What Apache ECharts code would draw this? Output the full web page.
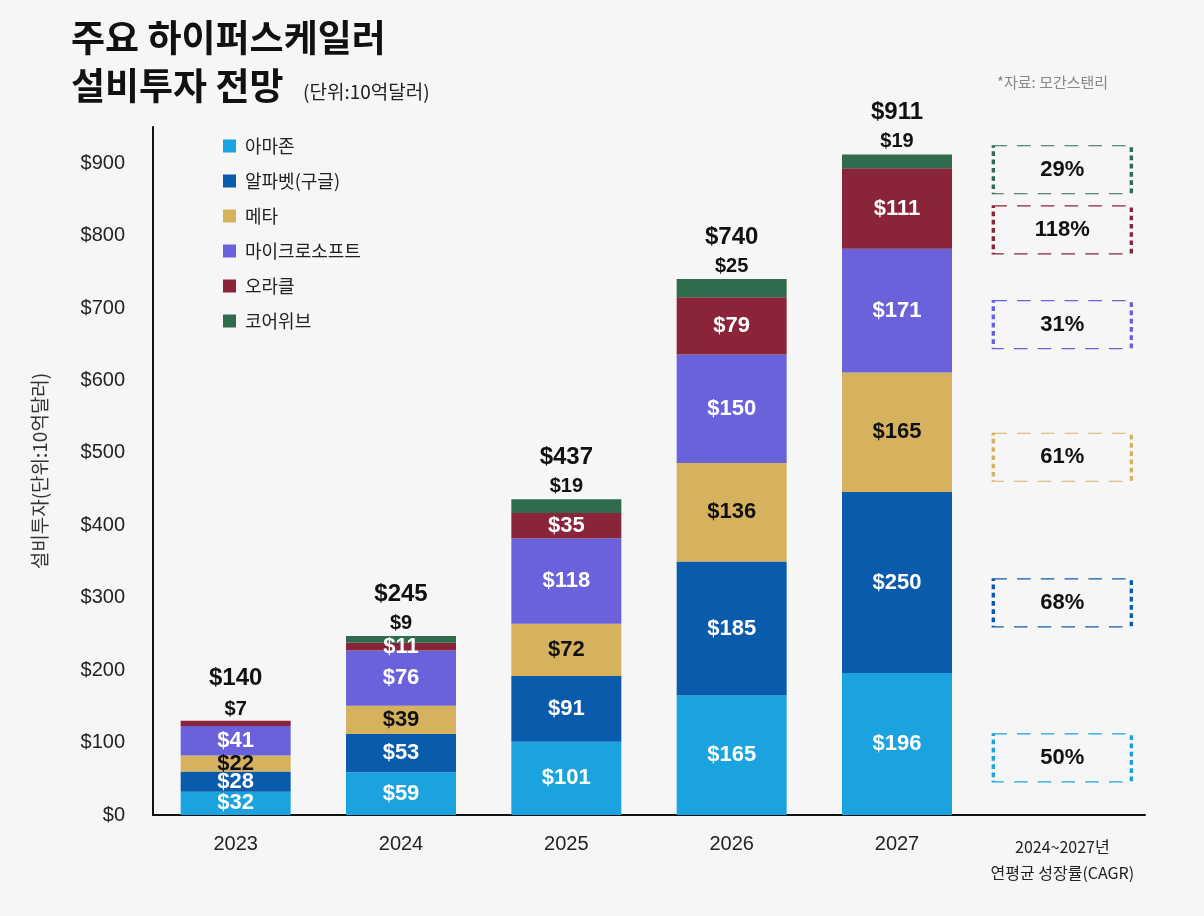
<!DOCTYPE html>
<html><head><meta charset="utf-8">
<script src="https://cdn.jsdelivr.net/npm/echarts@6/dist/echarts.min.js"></script>
<style>html,body{margin:0;padding:0;background:#f6f6f6;}#c{width:1204px;height:916px;}</style>
</head><body><div id="c"></div>
<script>
const categories = ['2023','2024','2025','2026','2027','2024~2027년\n연평균 성장률(CAGR)'];
const seriesNames = ['아마존','알파벳(구글)','메타','마이크로소프트','오라클','코어위브'];
const amazon    = [32, 59, 101, 165, 196];
const alphabet  = [28, 53, 91, 185, 250];
const meta      = [22, 39, 72, 136, 165];
const microsoft = [41, 76, 118, 150, 171];
const oracle    = [7, 11, 35, 79, 111];
const coreweave = [0, 9, 19, 25, 19];
const totals    = [140, 245, 437, 740, 911];
const cagr      = [50, 68, 61, 31, 118, 29];   // 아마존, 알파벳, 메타, MS, 오라클, 코어위브
const yTicks    = [0, 100, 200, 300, 400, 500, 600, 700, 800, 900];

const colors = ['#1ba3e0','#0a5bab','#d6b25f','#6a62db','#8a2439','#2f6b4c'];
const numFont = "'Liberation Sans Narrow','Liberation Sans',Arial,sans-serif";
const krFont = "'Noto Sans CJK KR','Noto Sans',sans-serif";
const boxAnchors = [79, 293, 494, 677, 808, 891]; // vertical placement of CAGR boxes (axis units)

const values = [amazon, alphabet, meta, microsoft, oracle, coreweave];
const labelColors = ['#fff','#fff','#111','#fff','#fff','#111'];

function fmt(v){ return '$' + v; }

const series = values.map((arr, si) => ({
  name: seriesNames[si],
  type: 'bar',
  stack: 'capex',
  barWidth: 110,
  itemStyle: { color: colors[si] },
  data: arr.map((v, i) => {
    const item = { value: v };
    if (si === 5) {
      item.label = v > 0
        ? { show: true, position: 'top', distance: 3, color: '#111', fontSize: 20, fontWeight: 'bold', fontFamily: numFont, formatter: fmt(v) }
        : { show: false };
    }
    if (si === 4 && coreweave[i] === 0) {
      item.label = { show: true, position: 'top', distance: 1, color: '#111', fontSize: 20, fontWeight: 'bold', fontFamily: numFont, formatter: fmt(v) };
    }
    return item;
  }).concat(['-']),
  label: {
    show: si !== 5,
    position: 'inside',
    color: labelColors[si],
    fontSize: 22,
    fontWeight: 'bold',
    fontFamily: numFont,
    formatter: p => fmt(p.value)
  }
}));

series.push({
  name: '합계',
  type: 'bar',
  stack: 'capex',
  barWidth: 110,
  itemStyle: { color: 'rgba(0,0,0,0)' },
  data: totals.map(() => 0).concat(['-']),
  label: {
    show: true, position: 'top', distance: 30,
    color: '#111', fontSize: 24, fontWeight: 'bold', fontFamily: numFont,
    formatter: p => fmt(totals[p.dataIndex])
  },
  tooltip: { show: false }
});

series.push({
  name: 'CAGR',
  type: 'scatter',
  symbol: 'rect',
  symbolSize: [138, 48],
  z: 5,
  data: cagr.map((c, i) => ({
    value: [5, boxAnchors[i]],
    itemStyle: { color: 'rgba(0,0,0,0)', borderColor: colors[i], borderWidth: 2, borderType: [8, 6], opacity: 1 }
  })),
  itemStyle: { opacity: 1 },
  label: {
    show: true, position: 'inside', color: '#111', fontSize: 22, fontWeight: 'bold', fontFamily: numFont,
    formatter: p => cagr[p.dataIndex] + '%'
  },
  emphasis: { disabled: true }
});

const chart = echarts.init(document.getElementById('c'));
chart.setOption({
  backgroundColor: '#f6f6f6',
  animation: false,
  color: colors,
  title: [
    { text: '주요 하이퍼스케일러', left: 66, top: 14,
      textStyle: { fontFamily: krFont, fontSize: 37, fontWeight: 'bold', color: '#111' } },
    { text: '설비투자 전망', left: 66, top: 62,
      textStyle: { fontFamily: krFont, fontSize: 37, fontWeight: 'bold', color: '#111' } },
    { text: '(단위:10억달러)', left: 298, top: 77,
      textStyle: { fontFamily: krFont, fontSize: 19, fontWeight: 'normal', color: '#222' } },
    { text: '*자료: 모간스탠리', left: 992, top: 70,
      textStyle: { fontFamily: krFont, fontSize: 15, fontWeight: 'normal', color: '#888' } }
  ],
  legend: {
    data: seriesNames,
    orient: 'vertical',
    left: 218, top: 132,
    itemWidth: 13, itemHeight: 13, itemGap: 17,
    icon: 'rect',
    textStyle: { fontFamily: krFont, fontSize: 18, color: '#222', padding: [0,0,0,4] },
    selectedMode: false
  },
  grid: { left: 153, right: 59, top: 127, bottom: 101, containLabel: false },
  xAxis: {
    type: 'category',
    data: categories,
    axisLine: { lineStyle: { color: '#111', width: 2 } },
    axisTick: { show: false },
    axisLabel: {
      interval: 0, margin: 19, color: '#222', fontFamily: numFont, fontSize: 20,
      formatter: (v, i) => i === 5 ? '{c|' + v.split('\n')[0] + '}\n{c|' + v.split('\n')[1] + '}' : v,
      rich: { c: { fontFamily: krFont, fontSize: 16, color: '#222', lineHeight: 26 } }
    }
  },
  yAxis: {
    type: 'value',
    min: 0, max: 950, interval: 100,
    name: '설비투자(단위:10억달러)',
    nameLocation: 'middle', nameRotate: 90, nameGap: 104,
    nameTextStyle: { fontFamily: krFont, fontSize: 19, color: '#333' },
    axisLine: { show: true, lineStyle: { color: '#111', width: 2 } },
    axisTick: { show: false },
    splitLine: { show: false },
    axisLabel: {
      showMaxLabel: false, margin: 28, color: '#222', fontFamily: numFont, fontSize: 20,
      formatter: v => yTicks.indexOf(v) >= 0 ? '$' + v : ''
    }
  },
  series: series
});
</script>
</body></html>
